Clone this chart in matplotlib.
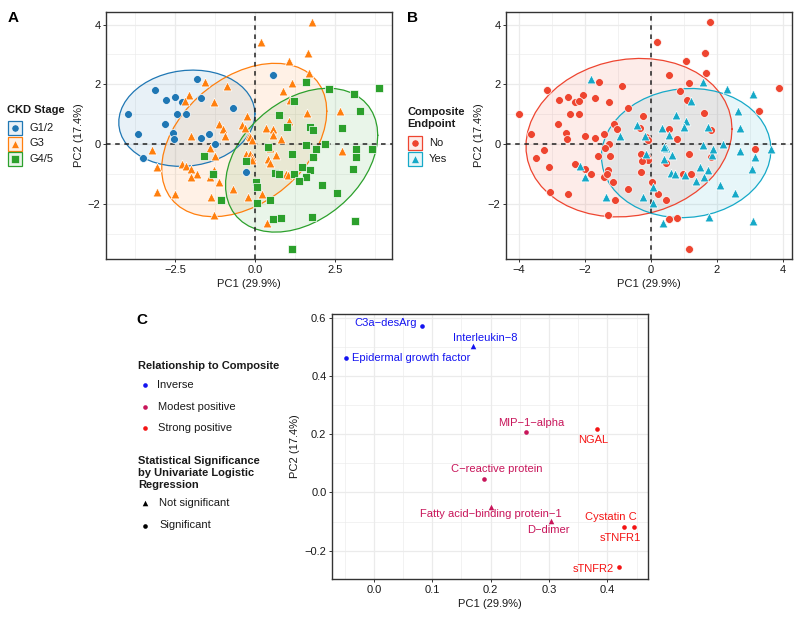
import numpy as np
import matplotlib
matplotlib.use("Agg")
import matplotlib.pyplot as plt
from matplotlib.colors import to_rgba
from matplotlib.patches import Rectangle

plt.rcParams['font.family'] = ['Liberation Sans', 'DejaVu Sans']

# ---------------- Panel A / B data (patient PCA scores) ----------------
g12_pc1 = [-3.99, -3.65, -3.50, -3.14, -2.79, -2.81, -2.52, -2.56, -2.54, -2.45,
           -2.30, -2.17, -1.81, -1.69, -1.71, -1.43, -1.26, -0.69, -0.30, 0.56]
g12_pc2 = [1.01, 0.33, -0.46, 1.82, 1.48, 0.68, 1.57, 0.36, 0.18, 1.01,
           1.41, 1.01, 2.18, 1.53, 0.20, 0.35, 0.00, 1.22, -0.94, 2.32]
g12_comp = ['No'] * 12 + ['Yes'] + ['No'] * 7

g3_pc1 = [1.78, 0.19, 1.65, 1.06, 1.67, -1.57, -0.88, -2.06, -2.18, -1.28,
          1.16, 0.88, 1.09, 1.61, 2.65, -0.24, -1.12, -1.02, -0.93, -0.42,
          -0.33, -2.01, -0.18, -0.15, -0.10, 0.33, 0.55, 0.55, 0.80, 1.05,
          -3.24, -1.40, -1.25, -3.08, -2.29, -2.15, -2.01, -1.83, -2.01, -1.29,
          -1.41, -1.14, -0.70, -0.23, -3.07, -2.52, -1.37, -1.30, -0.30, -0.15,
          -0.11, -0.10, 0.47, 0.64, 0.41, 0.47, 1.84, 2.71, 0.97, 1.04,
          0.22, 0.37]
g3_pc2 = [4.08, 3.41, 3.05, 2.77, 2.38, 2.07, 1.94, 1.63, 1.43, 1.40,
          2.05, 1.77, 1.49, 1.05, 1.11, 0.95, 0.66, 0.49, 0.28, 0.62,
          0.55, 0.27, 0.28, 0.22, 0.14, 0.55, 0.49, 0.31, 0.18, 0.77,
          -0.19, -0.13, -0.41, -0.76, -0.66, -0.72, -0.85, -1.02, -1.12, -0.86,
          -1.12, -1.26, -1.49, -1.78, -1.60, -1.67, -1.78, -2.38, -0.35, -0.35,
          -0.43, -0.55, -0.12, -0.36, -0.49, -0.62, -0.36, -0.24, -1.01, -1.04,
          -1.67, -2.66]
g3_comp = ['No', 'No', 'No', 'No', 'No', 'No', 'No', 'No', 'No', 'No',
           'No', 'No', 'No', 'No', 'Yes', 'No', 'No', 'No', 'Yes', 'Yes',
           'No', 'No', 'Yes', 'No', 'No', 'Yes', 'No', 'Yes', 'No', 'Yes',
           'No', 'No', 'No', 'No', 'No', 'Yes', 'No', 'No', 'Yes', 'No',
           'No', 'No', 'No', 'Yes', 'No', 'No', 'Yes', 'No', 'No', 'Yes',
           'No', 'No', 'Yes', 'Yes', 'Yes', 'No', 'Yes', 'Yes', 'No', 'Yes',
           'No', 'Yes']

g45_pc1 = [1.58, 2.31, 3.09, 3.88, 1.23, 3.27, 0.75, 2.71, 1.72, 1.81,
           1.00, 1.58, 2.19, 1.89, 3.16, 3.65, 3.16, 1.15, 1.81, 3.07,
           1.48, 1.72, 0.62, 0.73, 1.21, 1.60, 1.38, 2.10, 2.56, 0.02,
           0.06, 0.45, 0.05, 0.56, 0.80, 1.77, 3.11, 1.16, 0.40, -0.28,
           -1.61, -1.33, -1.08]
g45_pc2 = [2.09, 1.85, 1.66, 1.88, 1.43, 1.09, 0.98, 0.55, 0.58, 0.47,
           0.57, -0.04, 0.01, -0.16, -0.18, -0.16, -0.42, -0.32, -0.43, -0.84,
           -0.76, -0.86, -0.97, -1.01, -1.01, -1.10, -1.24, -1.37, -1.63, -1.26,
           -1.43, -1.86, -1.96, -2.51, -2.49, -2.43, -2.57, -3.50, -0.10, -0.58,
           -0.40, -0.99, -1.88]
g45_comp = ['Yes', 'Yes', 'Yes', 'No', 'Yes', 'No', 'Yes', 'Yes', 'Yes', 'No',
            'Yes', 'Yes', 'Yes', 'Yes', 'No', 'Yes', 'Yes', 'No', 'No', 'Yes',
            'Yes', 'Yes', 'Yes', 'Yes', 'No', 'Yes', 'Yes', 'Yes', 'Yes', 'No',
            'Yes', 'No', 'Yes', 'No', 'No', 'Yes', 'Yes', 'No', 'Yes', 'No',
            'No', 'No', 'No']

stage_levels = ['G1/2', 'G3', 'G4/5']
comp_levels = ['No', 'Yes']
ellipse_level = 0.80

pc1 = np.array(g12_pc1 + g3_pc1 + g45_pc1)
pc2 = np.array(g12_pc2 + g3_pc2 + g45_pc2)
ckd_stage = np.array(['G1/2'] * len(g12_pc1) + ['G3'] * len(g3_pc1) + ['G4/5'] * len(g45_pc1))
composite = np.array(g12_comp + g3_comp + g45_comp)

# ---------------- Panel C data (loadings) ----------------
biomarkers = ['C3a\u2212desArg', 'Interleukin\u22128', 'Epidermal growth factor',
              'MIP\u22121\u2212alpha', 'NGAL', 'C\u2212reactive protein',
              'Fatty acid\u2212binding protein\u22121', 'D\u2212dimer',
              'Cystatin C', 'sTNFR1', 'sTNFR2']
load_pc1 = [0.082, 0.169, -0.047, 0.260, 0.382, 0.188, 0.200, 0.303, 0.445, 0.428, 0.420]
load_pc2 = [0.572, 0.505, 0.463, 0.209, 0.219, 0.045, -0.050, -0.098, -0.119, -0.119, -0.257]
relationship = ['Inverse', 'Inverse', 'Inverse', 'Modest positive', 'Strong positive',
                'Modest positive', 'Modest positive', 'Modest positive',
                'Strong positive', 'Strong positive', 'Strong positive']
significance = ['Significant', 'Not significant', 'Significant', 'Significant', 'Significant',
                'Significant', 'Not significant', 'Not significant',
                'Significant', 'Significant', 'Significant']
rel_levels = ['Inverse', 'Modest positive', 'Strong positive']
sig_levels = ['Not significant', 'Significant']

# ---------------- styles ----------------
stage_colors = {'G1/2': '#1F77B4', 'G3': '#FF7F0E', 'G4/5': '#2CA02C'}
stage_markers = {'G1/2': 'o', 'G3': '^', 'G4/5': 's'}
stage_sizes = {'G1/2': 32, 'G3': 40, 'G4/5': 30}
comp_colors = {'No': '#EE4530', 'Yes': '#16A9C8'}
comp_markers = {'No': 'o', 'Yes': '^'}
comp_sizes = {'No': 32, 'Yes': 40}
rel_colors = {'Inverse': '#1414F0', 'Modest positive': '#C8155A', 'Strong positive': '#F41414'}
sig_markers = {'Not significant': '^', 'Significant': 'o'}
sig_sizes = {'Not significant': 16, 'Significant': 11}
# label placement offsets (pixels, x right / y up) and alignment
label_offsets = [(-5, 3, 'right'), (13, 8, 'center'), (6, 0, 'left'), (6, 9, 'center'),
                 (-4, -11, 'center'), (13, 10, 'center'), (0, -7, 'center'),
                 (-2, -9, 'center'), (3, 10, 'right'), (-3, -11, 'center'), (-5, -2, 'right')]

W, H = 800, 619
fig = plt.figure(figsize=(8.0, 6.19), dpi=100)

TXT = '#1a1a1a'
FRAME = '#333333'
GRID = '#EBEBEB'


def ax_px(l, t, r, b):
    return fig.add_axes([l / W, 1 - b / H, (r - l) / W, (b - t) / H])


def style(ax, xlim, ylim, xmaj, xmin, ymaj, ymin, xfmt, yfmt):
    ax.set_xlim(*xlim)
    ax.set_ylim(*ylim)
    ax.set_xticks(xmaj)
    ax.set_xticks(xmin, minor=True)
    ax.set_yticks(ymaj)
    ax.set_yticks(ymin, minor=True)
    ax.set_xticklabels([xfmt(v) for v in xmaj])
    ax.set_yticklabels([yfmt(v) for v in ymaj])
    ax.grid(True, which='major', color=GRID, lw=0.9, zorder=0)
    ax.grid(True, which='minor', color=GRID, lw=0.45, zorder=0)
    ax.set_axisbelow(True)
    for s in ax.spines.values():
        s.set_color(FRAME)
        s.set_linewidth(1.0)
    ax.tick_params(which='major', length=2.5, width=0.7, color=FRAME, labelsize=8,
                   labelcolor=TXT, pad=1.5)
    ax.tick_params(which='minor', length=0)


def fmt_num(d):
    def f(v):
        s = f"{v:.{d}f}"
        if s.startswith('-'):
            s = '\u2212' + s[1:]
        return s
    return f


def norm_ellipse(x, y, level, segments=51):
    # same construction as ggplot2::stat_ellipse(type = "norm")
    X = np.column_stack([x, y])
    n = len(x)
    center = X.mean(axis=0)
    shape = np.cov(X.T)
    dfd = n - 1
    fq = dfd / 2.0 * ((1 - level) ** (-2.0 / dfd) - 1)   # qf(level, 2, n-1)
    radius = np.sqrt(2 * fq)
    ang = np.linspace(0, 2 * np.pi, segments + 1)
    circ = np.column_stack([np.cos(ang), np.sin(ang)])
    L = np.linalg.cholesky(shape)
    return center + radius * circ @ L.T


def scatter_groups(ax, groups, levels, colors, markers, sizes):
    for g in levels:
        m = groups == g
        e = norm_ellipse(pc1[m], pc2[m], ellipse_level)
        ax.fill(e[:, 0], e[:, 1], color=to_rgba(colors[g], 0.1), lw=0, zorder=1)
        ax.plot(e[:, 0], e[:, 1], color=colors[g], lw=0.9, zorder=2)
    for g in levels:
        m = groups == g
        ax.scatter(pc1[m], pc2[m], s=sizes[g], marker=markers[g], color=colors[g],
                   edgecolor='white', linewidth=0.5, zorder=4)
    ax.axhline(0, color='#222222', lw=1.1, ls=(0, (3, 3)), zorder=3)
    ax.axvline(0, color='#222222', lw=1.1, ls=(0, (3, 3)), zorder=3)
    ax.set_xlabel('PC1 (29.9%)', fontsize=8, color=TXT, labelpad=3)
    ax.set_ylabel('PC2 (17.4%)', fontsize=8, color=TXT, labelpad=3)


# ---------------- Panel A ----------------
axA = ax_px(106, 12, 392, 259)
style(axA, (-4.666, 4.28), (-3.85, 4.42), [-2.5, 0, 2.5], [-3.75, -1.25, 1.25, 3.75],
      [-2, 0, 2, 4], [-3, -1, 1, 3], fmt_num(1), fmt_num(0))
scatter_groups(axA, ckd_stage, stage_levels, stage_colors, stage_markers, stage_sizes)

# ---------------- Panel B ----------------
axB = ax_px(506, 12, 792, 259)
style(axB, (-4.395, 4.28), (-3.85, 4.42), [-4, -2, 0, 2, 4], [-3, -1, 1, 3],
      [-2, 0, 2, 4], [-3, -1, 1, 3], fmt_num(0), fmt_num(0))
scatter_groups(axB, composite, comp_levels, comp_colors, comp_markers, comp_sizes)

# ---------------- Panel C ----------------
axC = ax_px(332, 314, 648, 579)
style(axC, (-0.0715, 0.4694), (-0.2974, 0.6134), [0, 0.1, 0.2, 0.3, 0.4],
      [-0.05, 0.05, 0.15, 0.25, 0.35, 0.45], [-0.2, 0, 0.2, 0.4, 0.6],
      [-0.1, 0.1, 0.3, 0.5], fmt_num(1), fmt_num(1))
for i, name in enumerate(biomarkers):
    col = rel_colors[relationship[i]]
    axC.scatter([load_pc1[i]], [load_pc2[i]], s=sig_sizes[significance[i]],
                marker=sig_markers[significance[i]], color=col, lw=0, zorder=4)
    dx, dy, ha = label_offsets[i]
    axC.annotate(name, (load_pc1[i], load_pc2[i]), xytext=(dx, dy),
                 textcoords='offset pixels', ha=ha, va='center', fontsize=8,
                 color=col, zorder=5)
axC.set_xlabel('PC1 (29.9%)', fontsize=8, color=TXT, labelpad=3)
axC.set_ylabel('PC2 (17.4%)', fontsize=8, color=TXT, labelpad=3)

# ---------------- Overlay: panel tags & legends (pixel coordinates) ----------------
ov = fig.add_axes([0, 0, 1, 1], zorder=10)
ov.set_xlim(0, W)
ov.set_ylim(H, 0)
ov.axis('off')

for tag, (x, y) in zip(['A', 'B', 'C'], [(8, 18), (407, 18), (136, 320)]):
    ov.text(x, y, tag, fontsize=11, fontweight='bold', va='center', ha='left', color='black')

# Legend A
ov.text(7, 110, 'CKD Stage', fontsize=8, fontweight='bold', va='center', ha='left', color=TXT)
for g, yc in zip(stage_levels, [127.8, 143.5, 159.3]):
    ov.add_patch(Rectangle((8, yc - 7), 14, 14, facecolor=to_rgba(stage_colors[g], 0.1),
                           edgecolor=stage_colors[g], lw=0.9))
    ov.scatter([15], [yc], s=stage_sizes[g] * 0.85, marker=stage_markers[g],
               color=stage_colors[g], edgecolor='white', linewidth=0.4)
    ov.text(29, yc, g, fontsize=8, va='center', ha='left', color=TXT)

# Legend B
ov.text(407, 111.7, 'Composite', fontsize=8, fontweight='bold', va='center', ha='left', color=TXT)
ov.text(407, 124, 'Endpoint', fontsize=8, fontweight='bold', va='center', ha='left', color=TXT)
for g, yc in zip(comp_levels, [142.6, 158.6]):
    ov.add_patch(Rectangle((408, yc - 7), 14, 14, facecolor=to_rgba(comp_colors[g], 0.1),
                           edgecolor=comp_colors[g], lw=0.9))
    ov.scatter([415], [yc], s=comp_sizes[g] * 0.85, marker=comp_markers[g],
               color=comp_colors[g], edgecolor='white', linewidth=0.4)
    ov.text(429, yc, g, fontsize=8, va='center', ha='left', color=TXT)

# Legend C
ov.text(138, 366, 'Relationship to Composite', fontsize=8, fontweight='bold',
        va='center', ha='left', color=TXT)
for g, yc in zip(rel_levels, [385, 406.5, 427.7]):
    ov.scatter([145], [yc], s=11, marker='o', color=rel_colors[g], lw=0)
    ov.text(157.5, yc, g, fontsize=8, va='center', ha='left', color=TXT)
for txt, yc in zip(['Statistical Significance', 'by Univariate Logistic', 'Regression'],
                   [461.5, 473.3, 484.5]):
    ov.text(138, yc, txt, fontsize=8, fontweight='bold', va='center', ha='left', color=TXT)
for g, yc in zip(sig_levels, [503.3, 525.5]):
    ov.scatter([145], [yc], s=sig_sizes[g], marker=sig_markers[g], color='black', lw=0)
    ov.text(159, yc, g, fontsize=8, va='center', ha='left', color=TXT)

fig.savefig('out.png', dpi=100)
